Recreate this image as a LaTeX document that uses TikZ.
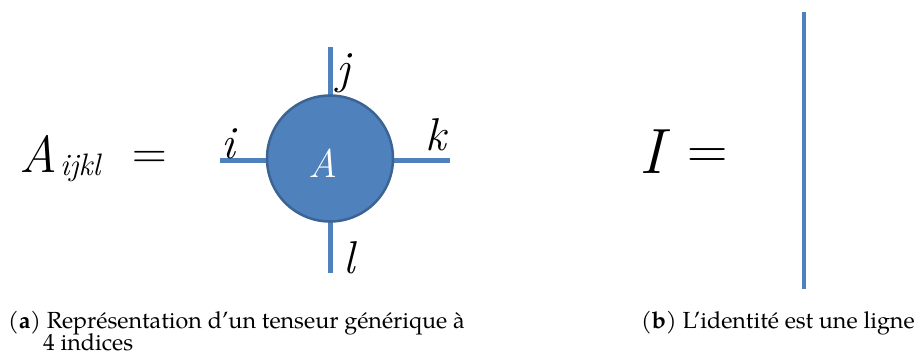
\documentclass[tikz,border=0pt]{standalone}
\usepackage{fontspec}
\setmainfont{TeX Gyre Pagella}
\definecolor{tblue}{HTML}{4F81BD}
\definecolor{tedge}{HTML}{3B6494}
\newcommand{\mifont}[1]{\fontfamily{lmr}\fontsize{#1}{#1}\itshape\selectfont}
\newcommand{\mrfont}[1]{\fontfamily{lmr}\fontsize{#1}{#1}\upshape\selectfont}
\tikzset{
  leg/.style={draw=tblue, line width=5pt},
  tensor/.style={circle, fill=tblue, draw=tedge, line width=2.5pt, minimum size=126pt, inner sep=0pt},
  idx/.style={anchor=base, inner sep=0pt, font=\mifont{46}},
  bigmath/.style={anchor=base, inner sep=0pt},
  captext/.style={anchor=base west, inner sep=0pt, font=\fontsize{23.3}{23.3}\selectfont}
}
\begin{document}
\begin{tikzpicture}[x=1pt,y=-1pt]
\useasboundingbox (0,0) rectangle (916,360);
% left: generic tensor
\node[bigmath, anchor=base west, font=\mifont{52}] (lhs) at (19,172) {A\kern3pt\raisebox{-3pt}{\mifont{31}ijkl}};
\node[bigmath, font=\mrfont{48}] (eq1) at (150,168.5) {=};
\coordinate (ti) at (220,160);
\coordinate (tk) at (450,160);
\coordinate (tj) at (330,47);
\coordinate (tl) at (330,273);
\draw[leg] (ti) -- (tk);
\draw[leg] (tj) -- (tl);
\node[tensor] (A) at (330,158.5) {};
\node[bigmath, text=white, font=\mifont{40}] (Alab) at (323,177) {A};
\node[idx] (li) at (228,158) {i};
\node[idx] (lj) at (343,83) {j};
\node[idx] (lk) at (436,150) {k};
\node[idx] (ll) at (349,273) {l};
% right: identity
\node[bigmath, font=\mifont{64}] (I) at (652,173) {I};
\node[bigmath, font=\mrfont{56}] (eq2) at (708,168) {=};
\coordinate (it) at (804,12);
\coordinate (ib) at (804,289);
\draw[draw=tblue, line width=4pt] (it) -- (ib);
% captions
\node[captext] (capa1) at (8,328) {(\textbf{a}) Représentation d’un tenseur générique à};
\node[captext] (capa2) at (43,350) {4 indices};
\node[captext] (capb) at (641,328) {(\textbf{b}) L’identité est une ligne};
\end{tikzpicture}
\end{document}
